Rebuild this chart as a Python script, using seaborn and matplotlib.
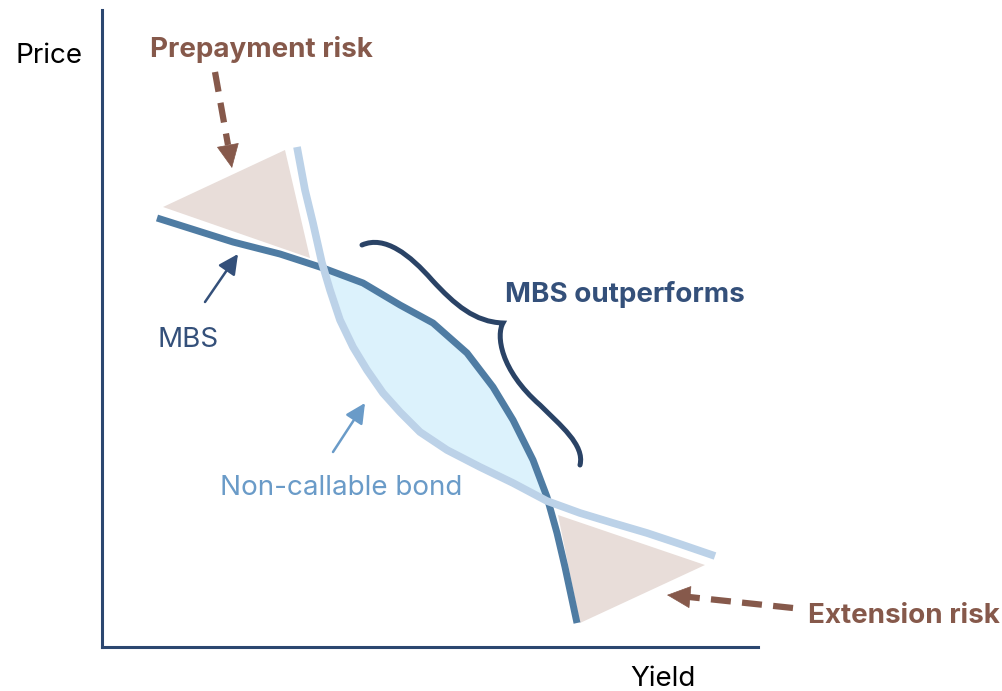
import matplotlib
matplotlib.use("Agg")
import matplotlib.pyplot as plt
from matplotlib.path import Path
from matplotlib.patches import PathPatch
import seaborn as sns

# curves (yield on x, price on y)
mbs_yield = [55, 93, 131, 178, 221, 261, 298, 331, 365, 391, 411, 431, 445, 455, 463, 475]
mbs_price = [429, 417, 405, 393, 379, 364, 342, 324, 294, 260, 227, 187, 150, 114, 80, 24]

bond_yield = [195, 203, 211, 220, 228, 238, 251, 265, 281, 298, 318, 345, 378, 411,
              445, 478, 511, 545, 578, 613]
bond_price = [500, 457, 424, 384, 357, 327, 300, 277, 254, 235, 215, 197, 180, 164,
              146, 134, 124, 114, 103, 91]

# risk triangles
prepay_x = [61, 183, 208]
prepay_y = [440, 497, 389]
extend_x = [456, 603, 478]
extend_y = [132, 82, 24]

# curly brace (cubic bezier control points)
brace_x = [260, 283, 308, 330, 353, 373, 401, 394, 398, 438, 458, 483, 478]
brace_y = [402, 412, 392, 367, 342, 325, 324, 312, 277, 242, 222, 202, 182]

labels = ["Price", "Yield", "Prepayment risk", "Extension risk",
          "MBS outperforms", "MBS", "Non-callable bond"]

c_axis = "#2c4770"
c_mbs = "#4f7ca3"
c_bond = "#bcd2e8"
c_fill = "#dcf2fc"
c_tri = "#e8ddd9"
c_brown = "#86594b"
c_navy = "#34507a"
c_brace = "#2a4366"
c_lblue = "#6a9bc8"

sns.set_theme(style="white")
plt.rcParams["font.family"] = ["Inter", "DejaVu Sans"]

fig = plt.figure(figsize=(10.02, 6.91), dpi=100)
ax = fig.add_axes([102 / 1002, 44 / 691, 656 / 1002, 637 / 691])
ax.set_xlim(0, 656)
ax.set_ylim(0, 637)
sns.despine(ax=ax)
for s in ["left", "bottom"]:
    ax.spines[s].set_color(c_axis)
    ax.spines[s].set_linewidth(2.2)
ax.set_xticks([])
ax.set_yticks([])

# shaded area where MBS sits above the bond
poly_x = mbs_yield[4:13] + bond_yield[3:15][::-1]
poly_y = mbs_price[4:13] + bond_price[3:15][::-1]
ax.fill(poly_x, poly_y, color=c_fill, lw=0, zorder=1)

ax.fill(prepay_x, prepay_y, color=c_tri, lw=0, zorder=1)
ax.fill(extend_x, extend_y, color=c_tri, lw=0, zorder=1)

sns.lineplot(x=mbs_yield, y=mbs_price, ax=ax, color=c_mbs, linewidth=5,
             sort=False, solid_capstyle="butt", solid_joinstyle="round", zorder=3)
sns.lineplot(x=bond_yield, y=bond_price, ax=ax, color=c_bond, linewidth=5.5,
             sort=False, solid_capstyle="butt", solid_joinstyle="round", zorder=4)

# brace
codes = [Path.MOVETO] + [Path.CURVE4] * 12
brace = Path(list(zip(brace_x, brace_y)), codes)
ax.add_patch(PathPatch(brace, fill=False, edgecolor=c_brace, lw=3.6,
                       capstyle="round", zorder=5))

# dashed risk arrows: dashed shaft + solid head
ax.plot([113, 126], [575, 502], color=c_brown, lw=4.5, dashes=(3.2, 1.8),
        solid_capstyle="butt", dash_capstyle="butt", clip_on=False)
ax.annotate("", xy=(130, 479), xytext=(126, 501),
            arrowprops=dict(arrowstyle="-|>,head_length=0.8,head_width=0.38",
                            mutation_scale=20, color=c_brown, lw=0.5,
                            shrinkA=0, shrinkB=0))
ax.plot([691, 587], [39, 50], color=c_brown, lw=4.5, dashes=(3.2, 1.8),
        solid_capstyle="butt", dash_capstyle="butt", clip_on=False)
ax.annotate("", xy=(565, 52), xytext=(587, 50),
            arrowprops=dict(arrowstyle="-|>,head_length=0.8,head_width=0.38",
                            mutation_scale=20, color=c_brown, lw=0.5,
                            shrinkA=0, shrinkB=0))

# thin label arrows
ax.annotate("", xy=(136, 393), xytext=(103, 345),
            arrowprops=dict(arrowstyle="-|>,head_length=0.6,head_width=0.3",
                            mutation_scale=20, color=c_navy, lw=1.8,
                            shrinkA=0, shrinkB=0))
ax.annotate("", xy=(263, 244), xytext=(231, 195),
            arrowprops=dict(arrowstyle="-|>,head_length=0.6,head_width=0.3",
                            mutation_scale=20, color=c_lblue, lw=1.8,
                            shrinkA=0, shrinkB=0))

# texts
kw = dict(ha="left", va="baseline", clip_on=False)
ax.text(-87, 584, labels[0], fontsize=20, color="black", **kw)
ax.text(528, -39, labels[1], fontsize=20, color="black", **kw)
ax.text(48, 590, labels[2], fontsize=20, color=c_brown, fontweight="bold", **kw)
ax.text(706, 24, labels[3], fontsize=20, color=c_brown, fontweight="bold", **kw)
ax.text(403, 345, labels[4], fontsize=20, color=c_navy, fontweight="bold", **kw)
ax.text(56, 300, labels[5], fontsize=20, color=c_navy, **kw)
ax.text(118, 152, labels[6], fontsize=20, color=c_lblue, **kw)

fig.savefig("out.png", dpi=100)
